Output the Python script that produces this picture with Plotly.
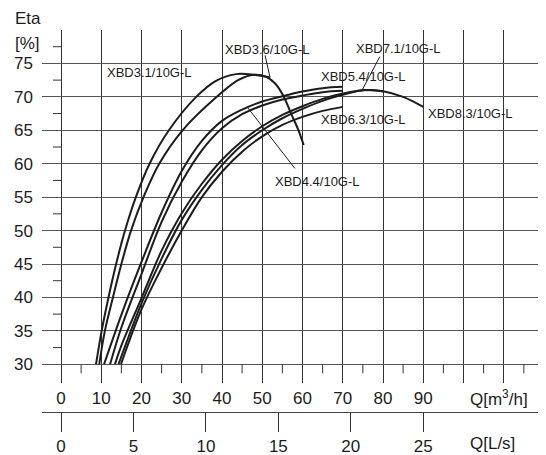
import plotly.graph_objects as go

# ---------------- data ----------------
q_ticks = [0, 10, 20, 30, 40, 50, 60, 70, 80, 90, 100, 110, 120]
q_tick_text = ["0", "10", "20", "30", "40", "50", "60", "70", "80", "90", "", "", ""]
ls_ticks = [0, 5, 10, 15, 20, 25]
eta_ticks = [30, 35, 40, 45, 50, 55, 60, 65, 70, 75, 80]
eta_tick_text = ["30", "35", "40", "45", "50", "55", "60", "65", "70", "75", ""]

models = ["XBD3.1/10G-L", "XBD3.6/10G-L", "XBD4.4/10G-L", "XBD5.4/10G-L",
          "XBD6.3/10G-L", "XBD7.1/10G-L", "XBD8.3/10G-L"]

q31 = [8.7, 10.1, 11.8, 13.7, 15.9, 18.6, 22.0, 26.8, 33.6, 38.5, 43.5, 48.0, 52.0]
e31 = [30, 35, 40, 45, 50, 55, 60, 65, 70, 72.4, 73.4, 73.3, 72.9]
q36 = [9.5, 10.9, 12.9, 15.0, 17.4, 20.5, 24.4, 30.2, 38.7, 44.0, 48.0, 51.0, 53.2, 55.2, 57.3, 59.0, 60.3]
e36 = [30, 35, 40, 45, 50, 55, 60, 65, 70, 72.5, 73.3, 73.0, 72.0, 70.2, 67.3, 65.0, 62.8]
q44 = [10.7, 15, 20, 25, 30, 35, 40, 45, 50, 55, 60, 65, 70]
e44 = [30, 37.4, 45.3, 52.7, 58.9, 63.4, 66.4, 68.1, 69.3, 70.1, 70.8, 71.3, 71.5]
q54 = [12.2, 15, 20, 25, 30, 35, 40, 45, 50, 55, 60, 65, 70]
e54 = [30, 35.5, 43.5, 51.3, 57.3, 62.0, 65.3, 67.4, 68.7, 69.6, 70.2, 70.7, 70.9]
q63 = [14.9, 20, 25, 30, 35, 40, 45, 50, 55, 60, 65, 70]
e63 = [30, 38.2, 44.4, 50.0, 55.0, 58.8, 61.8, 64.1, 65.8, 67.0, 67.9, 68.5]
q71 = [13.4, 15, 20, 25, 30, 35, 40, 45, 50, 55, 60, 65, 70, 75, 80]
e71 = [30, 32.8, 39.9, 47.0, 52.6, 57.0, 60.6, 63.4, 65.6, 67.3, 68.6, 69.7, 70.5, 71.0, 70.8]
q83 = [14.3, 20, 25, 30, 35, 40, 45, 50, 55, 60, 65, 70, 75, 80, 85, 90]
e83 = [30, 39.1, 45.8, 51.6, 56.1, 59.8, 62.8, 65.0, 66.8, 68.2, 69.4, 70.3, 71.0, 70.85, 70.0, 68.5]

series = [(q31, e31), (q36, e36), (q44, e44), (q54, e54),
          (q63, e63), (q71, e71), (q83, e83)]

# label positions (Q, eta) and leader lines
label_pos = {
    "XBD3.1/10G-L": (22.0, 73.6),
    "XBD3.6/10G-L": (51.4, 77.1),
    "XBD7.1/10G-L": (83.8, 77.2),
    "XBD5.4/10G-L": (75.2, 73.1),
    "XBD6.3/10G-L": (75.2, 66.6),
    "XBD8.3/10G-L": (101.7, 67.5),
    "XBD4.4/10G-L": (63.7, 57.4),
}
leaders = [((50.7, 76.2), (51.9, 73.0)),
           ((79.2, 76.0), (74.9, 71.1)),
           ((46.5, 68.3), (58.1, 59.3))]

FONT = "Liberation Sans, Arial, sans-serif"
X_RANGE = [-4.72, 120]
TXT = "#1c1c1c"

# the page body adds an 8 px offset, so the figure is laid out 8 px up/left
OFF = 8
W, H = 546 - OFF, 455 - OFF
plot_l, plot_r, plot_t, plot_b = 42, 544, 30, 412   # target pixels in the window

fig = go.Figure()
for name, (q, e) in zip(models, series):
    fig.add_trace(go.Scatter(x=q, y=e, mode="lines", name=name,
                             line=dict(color=TXT, width=2, shape="spline", smoothing=1.0),
                             showlegend=False, hoverinfo="skip"))
# dummy trace so the L/s axis is drawn
fig.add_trace(go.Scatter(x=[0, 25], y=[None, None], xaxis="x2", yaxis="y",
                         mode="lines", showlegend=False, hoverinfo="skip"))

shapes = []
for v in range(5, 120, 10):
    shapes.append(dict(type="line", xref="x", yref="y", x0=v, x1=v, y0=30, y1=28.65,
                       line=dict(color="#333", width=1)))
for i in range(10):
    v = 32.5 + 5 * i
    shapes.append(dict(type="line", xref="x", yref="y", x0=-2.0, x1=0, y0=v, y1=v,
                       line=dict(color="#333", width=1)))
for (a, b) in leaders:
    shapes.append(dict(type="line", xref="x", yref="y", x0=a[0], y0=a[1], x1=b[0], y1=b[1],
                       line=dict(color=TXT, width=1)))

def px_x(p):
    return (p - plot_l) / (plot_r - plot_l)
def px_y(p):
    return (plot_b - p) / (plot_b - plot_t)

annotations = []
for name, (x, y) in label_pos.items():
    annotations.append(dict(x=x, y=y, xref="x", yref="y", text=name, showarrow=False,
                            font=dict(family=FONT, size=13, color=TXT),
                            xanchor="center", yanchor="middle"))
annotations += [
    dict(x=px_x(13), y=px_y(18), xref="paper", yref="paper", text="Eta", showarrow=False,
         xanchor="left", yanchor="middle", font=dict(family=FONT, size=17, color=TXT)),
    dict(x=px_x(13), y=px_y(43), xref="paper", yref="paper", text="[%]", showarrow=False,
         xanchor="left", yanchor="middle", font=dict(family=FONT, size=17, color=TXT)),
    dict(x=108.8, y=px_y(398), xref="x", yref="paper", text="Q[m<sup>3</sup>/h]",
         showarrow=False, font=dict(family=FONT, size=17, color=TXT),
         xanchor="center", yanchor="middle"),
    dict(x=107.3, y=px_y(443), xref="x", yref="paper", text="Q[L/s]",
         showarrow=False, font=dict(family=FONT, size=17, color=TXT),
         xanchor="center", yanchor="middle"),
]

tickfont = dict(family=FONT, size=17, color=TXT)
fig.update_layout(
    width=W, height=H,
    margin=dict(l=plot_l - OFF, r=W - (plot_r - OFF), t=plot_t - OFF, b=H - (plot_b - OFF),
                autoexpand=False),
    paper_bgcolor="white", plot_bgcolor="white",
    font=dict(family=FONT, size=17, color=TXT),
    xaxis=dict(range=X_RANGE, tickvals=q_ticks, ticktext=q_tick_text,
               showgrid=True, gridcolor="#333", gridwidth=1, zeroline=False,
               showline=False, ticks="", anchor="y", automargin=False,
               ticklabelstandoff=3, tickfont=tickfont),
    xaxis2=dict(range=[X_RANGE[0] / 3.6, X_RANGE[1] / 3.6], tickvals=ls_ticks,
                overlaying="x", anchor="free", position=0, side="bottom",
                showgrid=False, zeroline=False, showline=True, linecolor="#444", linewidth=1,
                ticks="outside", ticklen=19, tickcolor="#333", tickwidth=1,
                automargin=False, tickfont=tickfont),
    yaxis=dict(domain=[(plot_b - 383) / (plot_b - plot_t), 1], range=[27.2, 80],
               tickvals=eta_ticks, ticktext=eta_tick_text, showgrid=True,
               gridcolor="#555", gridwidth=1, zeroline=False, showline=False, ticks="",
               automargin=False, ticklabelstandoff=8, tickfont=tickfont),
    shapes=shapes,
    annotations=annotations,
)

fig.write_html("out.html")
